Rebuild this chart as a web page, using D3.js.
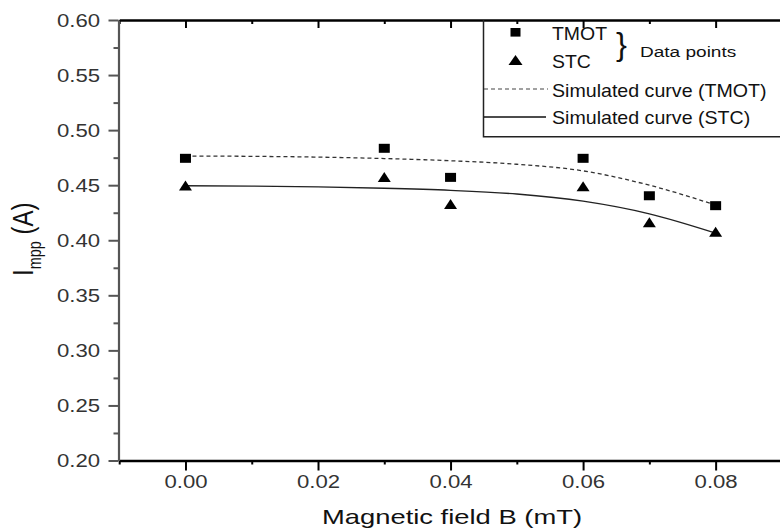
<!DOCTYPE html>
<html>
<head>
<meta charset="utf-8">
<script src="https://cdn.jsdelivr.net/npm/d3@7"></script>
<style>
  html, body { margin: 0; padding: 0; background: #fff; }
  svg { display: block; font-family: "Liberation Sans", Arial, sans-serif; }
</style>
</head>
<body>
<svg id="chart" width="780" height="532"></svg>
<script>
// ---- data ----
const fieldB = [0.00, 0.03, 0.04, 0.06, 0.07, 0.08];
const tmotPoints = [0.4744, 0.4835, 0.4571, 0.4744, 0.4404, 0.4314];
const stcPoints  = [0.4497, 0.4574, 0.4329, 0.4490, 0.4163, 0.4077];

const curveB = [0.00, 0.01, 0.02, 0.03, 0.04, 0.05, 0.06, 0.07, 0.08];
const tmotCurve = [0.4765, 0.4762, 0.4755, 0.4742, 0.4722, 0.4690, 0.4630, 0.4500, 0.4320];
const stcCurve  = [0.4495, 0.4492, 0.4484, 0.4472, 0.4453, 0.4420, 0.4355, 0.4240, 0.4065];

const xMajorTicks = [0.00, 0.02, 0.04, 0.06, 0.08];
const xMinorTicks = [-0.01, 0.01, 0.03, 0.05, 0.07, 0.09];
const yMajorTicks = [0.20, 0.25, 0.30, 0.35, 0.40, 0.45, 0.50, 0.55, 0.60];
const yMinorTicks = [0.225, 0.275, 0.325, 0.375, 0.425, 0.475, 0.525, 0.575];

const legendLabels = ["TMOT", "STC", "Data points", "Simulated curve (TMOT)", "Simulated curve (STC)"];
const xTitle = "Magnetic field B (mT)";

// ---- layout ----
const svg = d3.select("#chart");
const L = 118.5, R = 781.9, T = 20, B = 460.5;
const x = d3.scaleLinear().domain([-0.01, 0.09]).range([L + 0.7, R]);
const y = d3.scaleLinear().domain([0.20, 0.60]).range([B, T]);

const tickColor = "#333";

// bottom axis
const gx = svg.append("g").attr("transform", `translate(0,${B})`)
  .call(d3.axisBottom(x).tickValues(xMajorTicks).tickSize(10).tickSizeOuter(0).tickFormat(d3.format(".2f")));
gx.select(".domain").attr("stroke", "#000").attr("stroke-width", 2.4);
gx.selectAll(".tick line").attr("stroke", "#000").attr("stroke-width", 2);
gx.selectAll(".tick text").attr("y", 27.5).attr("dy", 0)
  .attr("fill", tickColor).attr("font-size", 18).attr("transform", "scale(1.23,1)");
const gxm = svg.append("g").attr("transform", `translate(0,${B})`)
  .call(d3.axisBottom(x).tickValues(xMinorTicks).tickSize(4).tickFormat(""));
gxm.select(".domain").remove();
gxm.selectAll(".tick line").attr("stroke", "#000").attr("stroke-width", 2);

// top axis (ticks inward)
const gt = svg.append("g").attr("transform", `translate(0,${T})`)
  .call(d3.axisBottom(x).tickValues(xMajorTicks).tickSize(8).tickSizeOuter(0).tickFormat(""));
gt.select(".domain").attr("stroke", "#000").attr("stroke-width", 2.4);
gt.selectAll(".tick line").attr("stroke", "#000").attr("stroke-width", 2);
const gtm = svg.append("g").attr("transform", `translate(0,${T})`)
  .call(d3.axisBottom(x).tickValues(xMinorTicks).tickSize(4).tickFormat(""));
gtm.select(".domain").remove();
gtm.selectAll(".tick line").attr("stroke", "#000").attr("stroke-width", 2);

// left axis
const gy = svg.append("g").attr("transform", `translate(${L},0)`)
  .call(d3.axisLeft(y).tickValues(yMajorTicks).tickSize(10).tickSizeOuter(0).tickFormat(d3.format(".2f")));
gy.select(".domain").attr("stroke", "#555").attr("stroke-width", 2.2);
gy.selectAll(".tick line").attr("stroke", "#555").attr("stroke-width", 2);
gy.selectAll(".tick text").attr("x", -15).attr("dy", "0.34em")
  .attr("fill", tickColor).attr("font-size", 18).attr("transform", "scale(1.23,1)");
const gym = svg.append("g").attr("transform", `translate(${L},0)`)
  .call(d3.axisLeft(y).tickValues(yMinorTicks).tickSize(5).tickFormat(""));
gym.select(".domain").remove();
gym.selectAll(".tick line").attr("stroke", "#555").attr("stroke-width", 2);

// axis titles
svg.append("text").attr("transform", `translate(452,524) scale(1.37,1)`)
  .attr("text-anchor", "middle").attr("font-size", 20).attr("fill", "#111").text(xTitle);

const yl = svg.append("text").attr("transform", `translate(33,276) scale(1.23,1) rotate(-90)`)
  .attr("text-anchor", "start").attr("font-size", 24).attr("fill", "#111");
yl.append("tspan").text("I");
yl.append("tspan").attr("font-size", 14.5).attr("dy", 6.5).text("mpp");
yl.append("tspan").attr("dy", -6.5).text(" (A)");

// curves
const line = d3.line().x(d => x(d[0])).y(d => y(d[1])).curve(d3.curveMonotoneX);
svg.append("path").datum(curveB.map((b, i) => [b, tmotCurve[i]]))
  .attr("d", line).attr("fill", "none").attr("stroke", "#333").attr("stroke-width", 1.3)
  .attr("stroke-dasharray", "4,3");
svg.append("path").datum(curveB.map((b, i) => [b, stcCurve[i]]))
  .attr("d", line).attr("fill", "none").attr("stroke", "#222").attr("stroke-width", 1.3);

// markers
const sqW = 11, sqH = 9, trW = 13, trH = 10;
const triPath = (cx, cy, w, h) => `M${cx - w / 2},${cy + h / 2}L${cx + w / 2},${cy + h / 2}L${cx},${cy - h / 2}Z`;
svg.append("g").selectAll("rect").data(fieldB.map((b, i) => [b, tmotPoints[i]])).join("rect")
  .attr("x", d => x(d[0]) - sqW / 2).attr("y", d => y(d[1]) - sqH / 2)
  .attr("width", sqW).attr("height", sqH).attr("fill", "#000");
svg.append("g").selectAll("path").data(fieldB.map((b, i) => [b, stcPoints[i]])).join("path")
  .attr("d", d => triPath(x(d[0]), y(d[1]), trW, trH)).attr("fill", "#000");

// legend
const lg = svg.append("g");
lg.append("path").attr("d", `M483.5,${T}V136.7H790`).attr("fill", "none").attr("stroke", "#222").attr("stroke-width", 1.5);
lg.append("rect").attr("x", 515.5 - 5).attr("y", 32.3 - 4.3).attr("width", 10).attr("height", 8.6).attr("fill", "#000");
lg.append("path").attr("d", triPath(515.5, 60, 14, 10)).attr("fill", "#000");
const lt = (tx, ty, s, fs, sx) => lg.append("text").attr("transform", `translate(${tx},${ty}) scale(${sx},1)`)
  .attr("font-size", fs).attr("fill", "#111").text(s);
lt(552, 40, legendLabels[0], 18, 1.08);
lt(552, 67.5, legendLabels[1], 18, 1.08);
lg.append("text").attr("transform", `translate(616,55) scale(1.05,1)`).attr("font-size", 31).attr("fill", "#111").text("}");
lt(640, 57.3, legendLabels[2], 15, 1.27);
lg.append("line").attr("x1", 484).attr("x2", 548).attr("y1", 89).attr("y2", 89)
  .attr("stroke", "#444").attr("stroke-width", 1.2).attr("stroke-dasharray", "4,3");
lt(552, 96.5, legendLabels[3], 18, 1.09);
lg.append("line").attr("x1", 484).attr("x2", 546).attr("y1", 117).attr("y2", 117)
  .attr("stroke", "#111").attr("stroke-width", 1.3);
lt(552, 124, legendLabels[4], 18, 1.09);
</script>
</body>
</html>
